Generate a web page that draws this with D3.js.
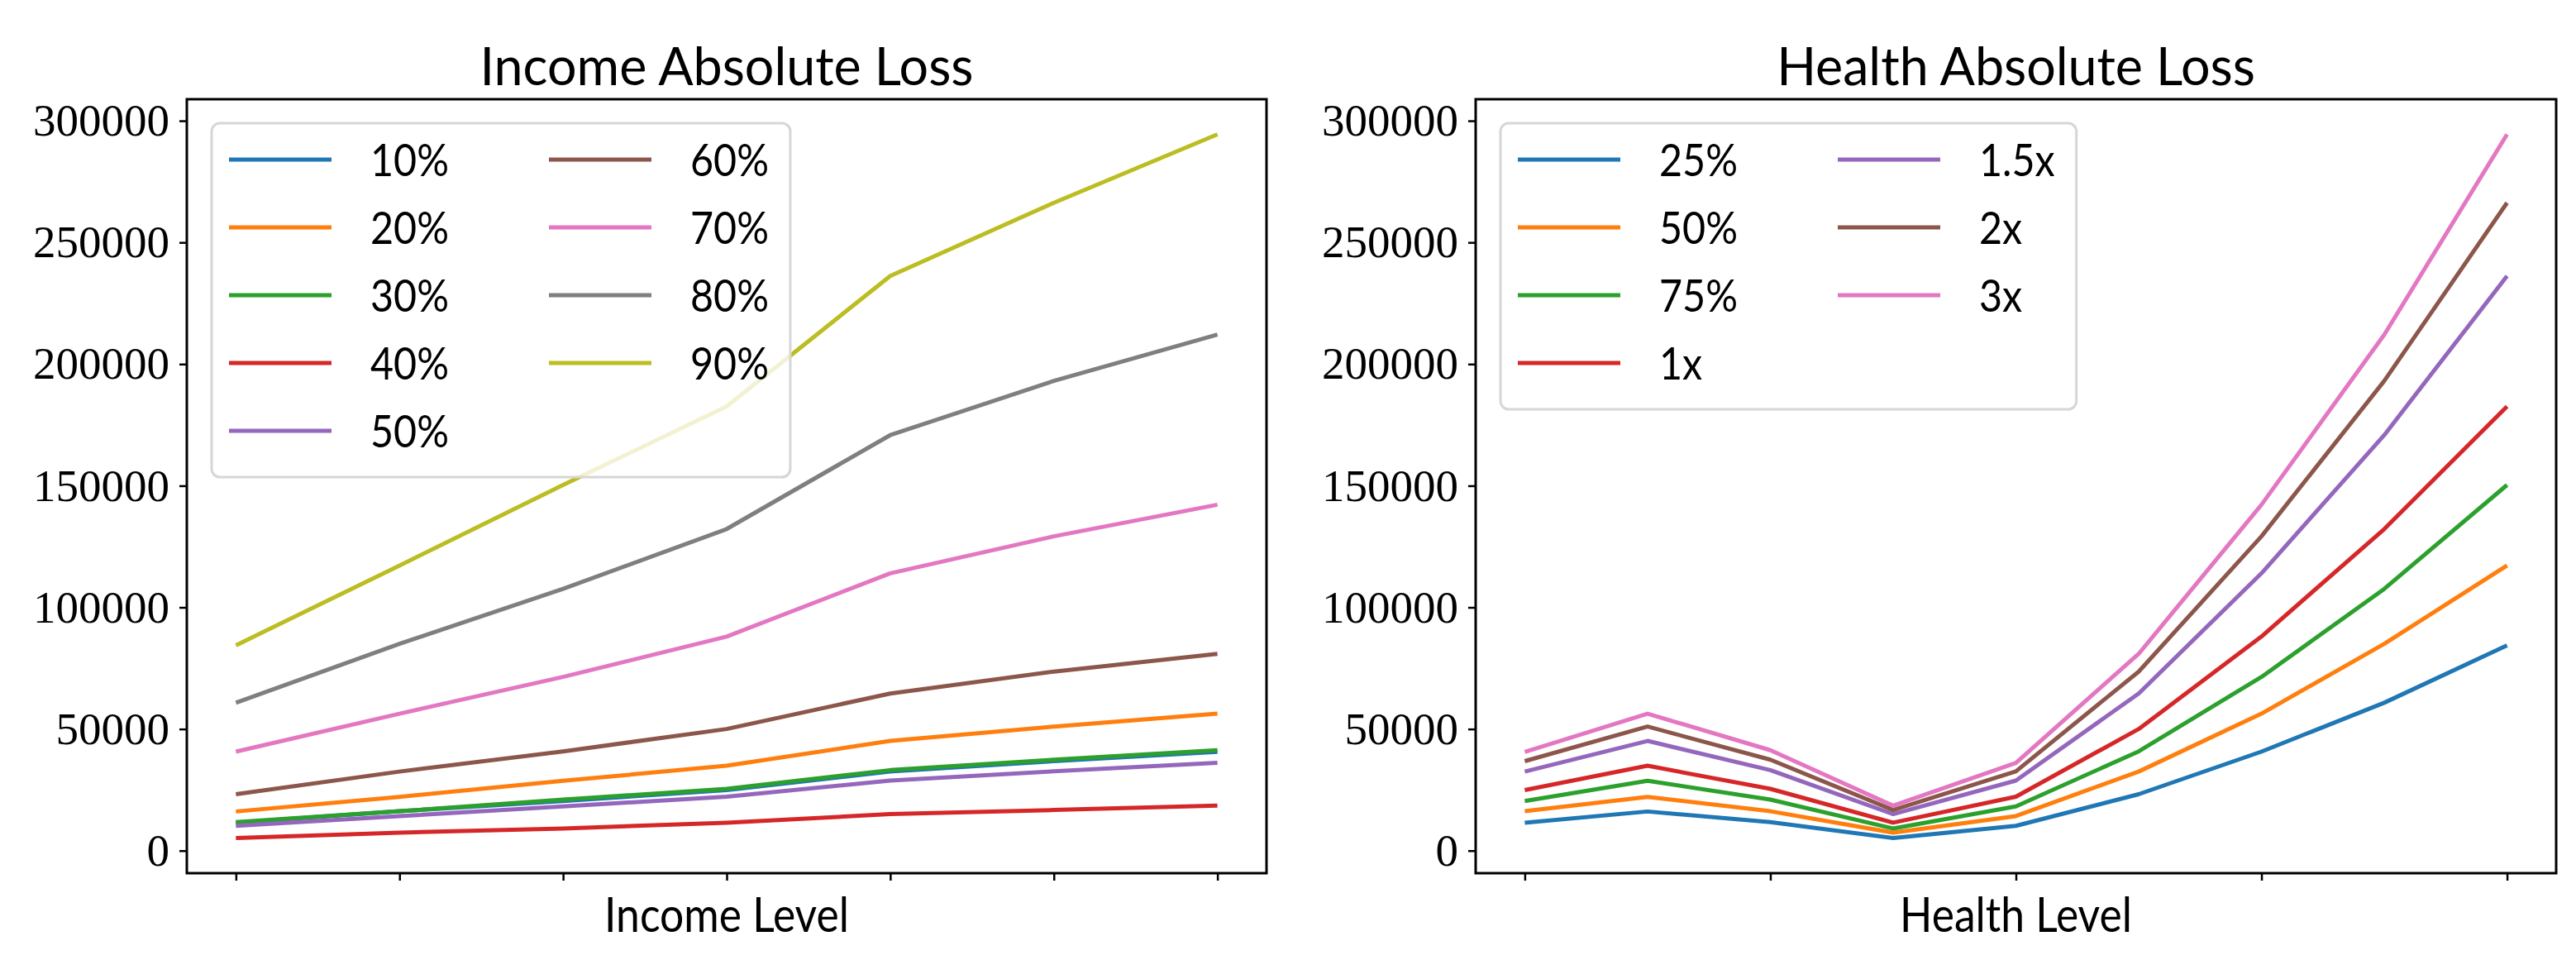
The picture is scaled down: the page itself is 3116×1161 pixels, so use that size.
<!DOCTYPE html>
<html>
<head>
<meta charset="utf-8">
<script src="https://cdn.jsdelivr.net/npm/d3@7"></script>
<style>
  body { margin: 0; background: #fff; }
  svg { display: block; }
  .ytick { font-family: "Liberation Serif", "DejaVu Serif", serif; font-size: 55px; }
</style>
</head>
<body>
<div id="chart"></div>
<script>
// loss by income level (x = 0..6), one series per loss share
var incomeLabels = ["10%", "20%", "30%", "40%", "50%", "60%", "70%", "80%", "90%"];
var incomeLevels = [0, 1, 2, 3, 4, 5, 6];
var income10 = [11500, 16200, 20400, 24900, 32500, 36800, 40600];
var income20 = [16100, 22100, 28700, 34900, 45100, 51000, 56300];
var income30 = [11700, 16200, 21000, 25400, 33100, 37400, 41300];
var income40 = [5200, 7400, 9100, 11500, 15000, 16700, 18500];
var income50 = [10200, 14200, 18200, 22200, 28800, 32600, 36100];
var income60 = [23200, 32500, 40800, 50000, 64600, 73600, 80900];
var income70 = [40700, 56300, 71400, 88000, 114000, 129200, 142200];
var income80 = [60800, 85000, 107600, 132200, 170800, 193100, 212100];
var income90 = [84400, 117200, 150300, 182600, 236200, 266300, 294400];
var incomeTicks = [0, 1, 2, 3, 4, 5, 6];

// loss by health level (x = 0..8), one series per multiplier
var healthLabels = ["25%", "50%", "75%", "1x", "1.5x", "2x", "3x"];
var healthLevels = [0, 1, 2, 3, 4, 5, 6, 7, 8];
var health25 = [11500, 16100, 11700, 5200, 10200, 23200, 40700, 60800, 84400];
var health50 = [16200, 22100, 16200, 7400, 14200, 32500, 56300, 85000, 117200];
var health75 = [20400, 28700, 21000, 9100, 18200, 40800, 71400, 107600, 150300];
var health1x = [24900, 34900, 25400, 11500, 22200, 50000, 88000, 132200, 182600];
var health15 = [32500, 45100, 33100, 15000, 28800, 64600, 114000, 170800, 236200];
var health2x = [36800, 51000, 37400, 16700, 32600, 73600, 129200, 193100, 266300];
var health3x = [40600, 56300, 41300, 18500, 36100, 80900, 142200, 212100, 294400];
var healthTicks = [0, 2, 4, 6, 8];

var yTicks = [0, 50000, 100000, 150000, 200000, 250000, 300000];

var tab10 = ["#1f77b4", "#ff7f0e", "#2ca02c", "#d62728", "#9467bd",
             "#8c564b", "#e377c2", "#7f7f7f", "#bcbd22", "#17becf"];

var svg = d3.select("#chart").append("svg")
  .attr("width", 3116)
  .attr("height", 1161);

var SANS = "Lato, 'Open Sans', sans-serif";

// the original uses a narrow LaTeX sans, so squeeze text a bit
function squeeze(sel, k) {
  sel.each(function() {
    var w = this.getComputedTextLength();
    d3.select(this).attr("textLength", w * k).attr("lengthAdjust", "spacingAndGlyphs");
  });
}

function drawPanel(opt) {
  var g = svg.append("g");
  var xs = opt.x, series = opt.series;

  // matplotlib style 5% margins
  var xmin = d3.min(xs), xmax = d3.max(xs), xpad = (xmax - xmin) * 0.05;
  var all = d3.merge(series);
  var ymin = d3.min(all), ymax = d3.max(all), ypad = (ymax - ymin) * 0.05;

  var x = d3.scaleLinear().domain([xmin - xpad, xmax + xpad]).range([opt.left, opt.right]);
  var y = d3.scaleLinear().domain([ymin - ypad, ymax + ypad]).range([opt.bottom, opt.top]);

  var line = d3.line()
    .x(function(d, i) { return x(xs[i]); })
    .y(function(d) { return y(d); });

  g.selectAll("path.series")
    .data(series)
    .enter()
    .append("path")
    .attr("class", "series")
    .attr("d", line)
    .attr("fill", "none")
    .attr("stroke", function(d, i) { return tab10[i]; })
    .attr("stroke-width", 5)
    .attr("stroke-linejoin", "round");

  // axes
  var yAxis = g.append("g")
    .attr("transform", "translate(" + opt.left + ",0)")
    .call(d3.axisLeft(y).tickValues(yTicks).tickSize(9).tickPadding(12).tickFormat(d3.format("d")));
  yAxis.attr("font-family", null).attr("font-size", null);
  yAxis.select(".domain").remove();
  yAxis.selectAll(".tick line").attr("stroke", "#000").attr("stroke-width", 2.5);
  yAxis.selectAll(".tick text")
    .attr("class", "ytick")
    .attr("fill", "#000");

  var xAxis = g.append("g")
    .attr("transform", "translate(0," + opt.bottom + ")")
    .call(d3.axisBottom(x).tickValues(opt.ticks).tickSize(9).tickFormat(""));
  xAxis.select(".domain").remove();
  xAxis.selectAll(".tick line").attr("stroke", "#000").attr("stroke-width", 2.5);

  g.append("rect")
    .attr("x", opt.left)
    .attr("y", opt.top)
    .attr("width", opt.right - opt.left)
    .attr("height", opt.bottom - opt.top)
    .attr("fill", "none")
    .attr("stroke", "#000")
    .attr("stroke-width", 3);

  var cx = (opt.left + opt.right) / 2;
  g.append("text")
    .attr("x", cx)
    .attr("y", 103)
    .attr("text-anchor", "middle")
    .style("font-family", SANS)
    .style("font-size", "64px")
    .text(opt.title)
    .call(squeeze, 0.98);

  g.append("text")
    .attr("x", cx)
    .attr("y", 1127)
    .attr("text-anchor", "middle")
    .style("font-family", SANS)
    .style("font-size", "58px")
    .text(opt.xlabel)
    .call(squeeze, 0.89);

  // legend, two columns
  var nrow = Math.ceil(opt.labels.length / 2);
  var lx = opt.left + 30, ly = opt.top + 29;
  var rowH = 82, colW = 387;
  var leg = g.append("g");
  var box = leg.append("rect")
    .attr("x", lx)
    .attr("y", ly)
    .attr("rx", 10)
    .attr("fill", "#fff")
    .attr("fill-opacity", 0.8)
    .attr("stroke", "#d6d6d6")
    .attr("stroke-width", 3);

  var items = leg.selectAll("g.item")
    .data(opt.labels)
    .enter()
    .append("g")
    .attr("class", "item")
    .attr("transform", function(d, i) {
      var c = Math.floor(i / nrow), r = i % nrow;
      return "translate(" + (lx + c * colW) + "," + (ly + 44 + r * rowH) + ")";
    });
  items.append("line")
    .attr("x1", 21).attr("x2", 145)
    .attr("y1", 0).attr("y2", 0)
    .attr("stroke", function(d, i) { return tab10[i]; })
    .attr("stroke-width", 5);
  items.append("text")
    .attr("x", 192)
    .attr("y", 0)
    .attr("dy", "0.36em")
    .style("font-family", SANS)
    .style("font-size", "55px")
    .text(function(d) { return d; })
    .call(squeeze, 0.88);

  var maxRight = 0;
  items.each(function(d, i) {
    var c = Math.floor(i / nrow);
    var w = +this.querySelector("text").getAttribute("textLength");
    maxRight = Math.max(maxRight, c * colW + 192 + w);
  });
  box.attr("width", maxRight + 26)
    .attr("height", 44 + (nrow - 1) * rowH + 56);
}

drawPanel({
  left: 226, right: 1532, top: 120, bottom: 1056,
  x: incomeLevels,
  series: [income10, income20, income30, income40, income50, income60, income70, income80, income90],
  labels: incomeLabels,
  ticks: incomeTicks,
  title: "Income Absolute Loss",
  xlabel: "Income Level"
});

drawPanel({
  left: 1785, right: 3092, top: 120, bottom: 1056,
  x: healthLevels,
  series: [health25, health50, health75, health1x, health15, health2x, health3x],
  labels: healthLabels,
  ticks: healthTicks,
  title: "Health Absolute Loss",
  xlabel: "Health Level"
});
</script>
</body>
</html>
